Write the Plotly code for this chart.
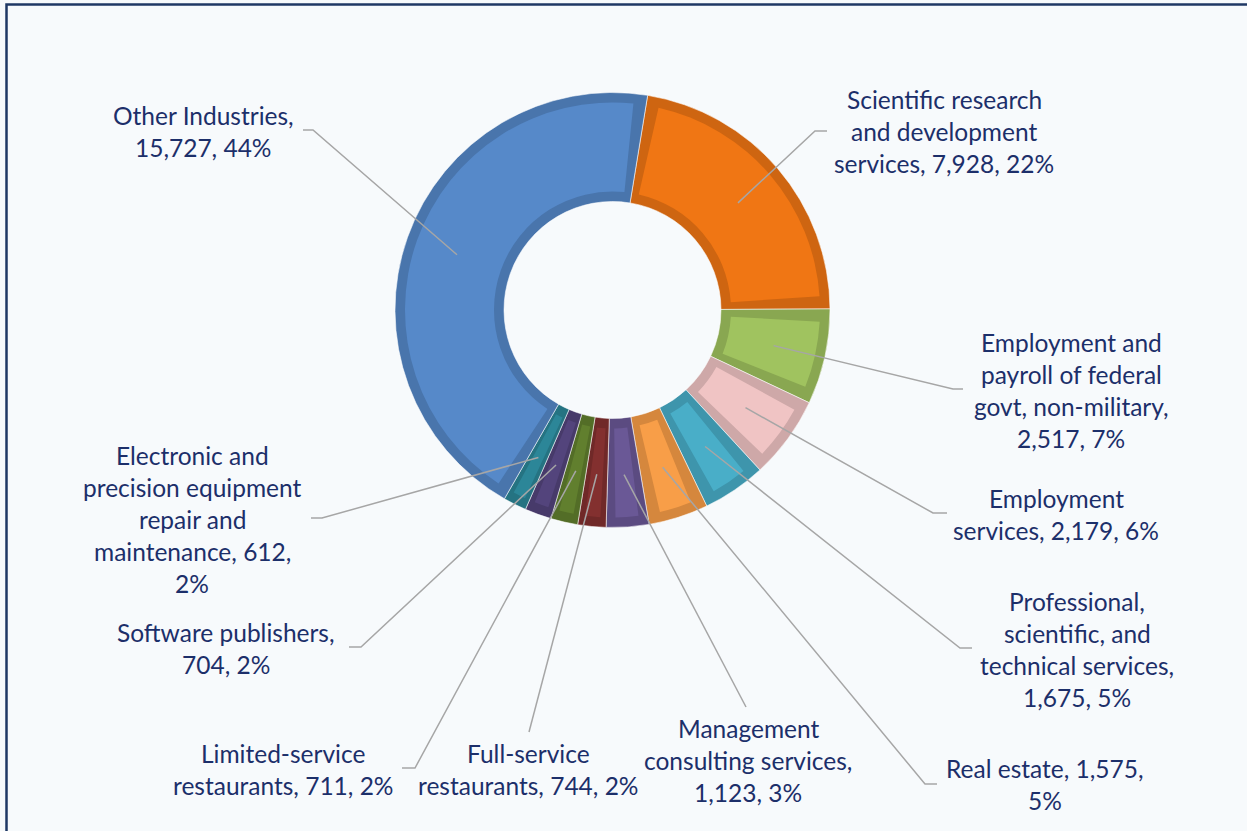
import math
import textwrap
import plotly.graph_objects as go

# ---------------- data ----------------
categories = [
    "Scientific research and development services",
    "Employment and payroll of federal govt, non-military",
    "Employment services",
    "Professional, scientific, and technical services",
    "Real estate",
    "Management consulting services",
    "Full-service restaurants",
    "Limited-service restaurants",
    "Software publishers",
    "Electronic and precision equipment repair and maintenance",
    "Other Industries",
]
values = [7928, 2517, 2179, 1675, 1575, 1123, 744, 711, 704, 612, 15727]
percents = [22, 7, 6, 5, 5, 3, 2, 2, 2, 2, 44]
colors = ["#F07614", "#A0C35F", "#F0C4C4", "#49AEC8", "#F89E48", "#6A5896",
          "#83302F", "#617F2E", "#53447C", "#2C8698", "#5689C9"]

# ---------------- layout constants ----------------
W, H = 1247, 831
CX, CY, R_OUT, R_IN = 612.5, 310.0, 217.5, 108.5
ROT = 9.3
BEVEL = 10
TEXT_COLOR = "#1C2F6A"
LINE_COLOR = "#A6A6A6"
FONT = "Lato"
FSIZE = 24.5
LINE_H = 32.2

# label placement: (center x, first line center y, wrap width, elbow, end)
label_layout = [
    (944, 99, 20, (815, 131), (827, 131)),
    (1071, 342, 19, (953, 389), (963, 389)),
    (1056, 498, 19, (933, 513), (947, 513)),
    (1077, 601, 20, (960, 648), (972, 648)),
    (1045, 768, 19, (925, 784), (937, 784)),
    (748, 728, 20, (746, 707), None),
    (528, 753, 20, (529, 732), None),
    (283, 753, 20, (415, 768), (402, 768)),
    (226, 632, 20, (361, 647), (349, 647)),
    (192, 455, 19, (322, 518), (311, 518)),
    (203, 115, 17, (313, 130), (303, 130)),
]


def fx(x):
    return x / W


def fy(y):
    return 1 - y / H


def shade(hexc, f):
    h = hexc.lstrip("#")
    r, g, b = (int(h[i:i + 2], 16) for i in (0, 2, 4))
    return "rgb(%d,%d,%d)" % (int(r * f), int(g * f), int(b * f))


def domain_for(radius):
    return dict(x=[fx(CX - radius), fx(CX + radius)],
                y=[fy(CY + radius), fy(CY - radius)])


total = sum(values)
fig = go.Figure()

# bevel (darker) base ring
fig.add_trace(go.Pie(
    values=values, labels=categories, sort=False, direction="clockwise",
    rotation=ROT, hole=R_IN / R_OUT, domain=domain_for(R_OUT),
    marker=dict(colors=[shade(c, 0.86) for c in colors],
                line=dict(color="rgba(255,255,255,0.55)", width=1)),
    textinfo="none", hoverinfo="label+value", showlegend=False,
))

# inset face ring
r_face_out = R_OUT - BEVEL
r_face_in = R_IN + BEVEL
r_mid = (R_OUT + R_IN) / 2
face_vals, face_cols = [], []
for v, c in zip(values, colors):
    g = min(BEVEL / r_mid / (2 * math.pi) * total, 0.22 * v)
    face_vals += [g, v - 2 * g, g]
    face_cols += ["rgba(0,0,0,0)", c, "rgba(0,0,0,0)"]
fig.add_trace(go.Pie(
    values=face_vals, sort=False, direction="clockwise", rotation=ROT,
    hole=r_face_in / r_face_out, domain=domain_for(r_face_out),
    marker=dict(colors=face_cols, line=dict(width=0)),
    textinfo="none", hoverinfo="skip", showlegend=False,
))

# leader lines and labels
shapes = []
annotations = []
cum = 0
for i, (cat, v, p) in enumerate(zip(categories, values, percents)):
    mid = ROT + (cum + v / 2) / total * 360
    cum += v
    a = math.radians(mid)
    rr = 165
    ax_, ay_ = CX + rr * math.sin(a), CY - rr * math.cos(a)
    cxl, y0, wrap, elbow, end = label_layout[i]
    pts = [(ax_, ay_), elbow] + ([end] if end else [])
    path = "M " + " L ".join("%.5f,%.5f" % (fx(x), fy(y)) for x, y in pts)
    shapes.append(dict(type="path", path=path, xref="paper", yref="paper",
                       line=dict(color=LINE_COLOR, width=1.5)))
    text = "%s, %s, %d%%" % (cat, format(v, ","), p)
    lines = textwrap.wrap(text, width=wrap, break_on_hyphens=False)
    for j, ln in enumerate(lines):
        annotations.append(dict(
            x=fx(cxl), y=fy(y0 + j * LINE_H), xref="paper", yref="paper",
            text=ln, showarrow=False, xanchor="center", yanchor="middle",
            font=dict(family=FONT, size=FSIZE, color=TEXT_COLOR)))

# outer border of chart area
shapes.append(dict(type="rect", xref="paper", yref="paper",
                   x0=fx(6.5), x1=1.02, y0=-0.02, y1=fy(4.5),
                   line=dict(color="#1F3864", width=2.5),
                   fillcolor="rgba(0,0,0,0)"))

fig.update_layout(
    width=W, height=H, margin=dict(l=0, r=0, t=0, b=0),
    paper_bgcolor="#F7FAFC", plot_bgcolor="#F7FAFC",
    shapes=shapes, annotations=annotations, showlegend=False,
)

fig.write_html(
    "out.html",
    config={"displayModeBar": False},
    post_script="document.body.style.margin='0';document.body.style.overflow='hidden';",
)
